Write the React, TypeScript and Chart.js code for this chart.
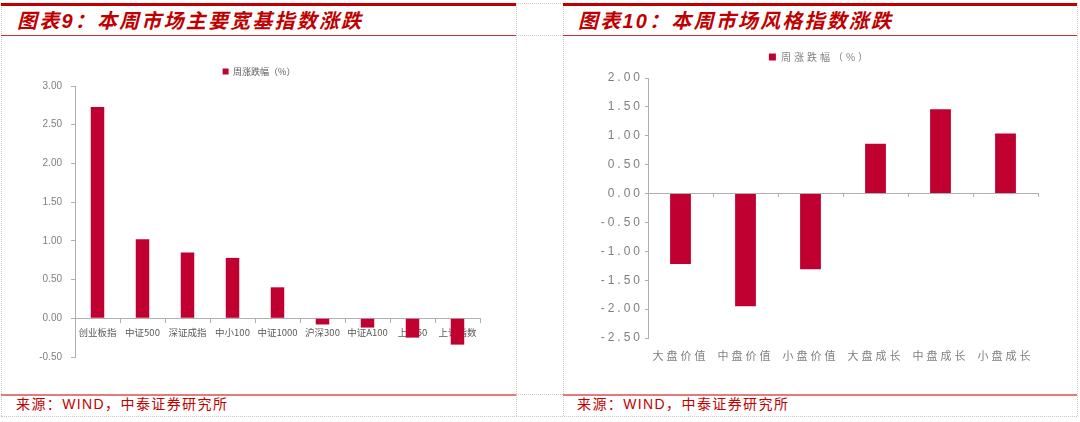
import React, { useEffect, useRef } from 'react';
import { Chart, registerables } from 'chart.js';

Chart.register(...registerables);

// ---------- data ----------
const broadCategories = ['创业板指', '中证500', '深证成指', '中小100', '中证1000', '沪深300', '中证A100', '上证50', '上证指数'];
const broadValues = [2.73, 1.02, 0.85, 0.78, 0.4, -0.08, -0.12, -0.25, -0.34];
const broadAxisRange = [-0.5, 3.0];

const styleCategories = ['大盘价值', '中盘价值', '小盘价值', '大盘成长', '中盘成长', '小盘成长'];
const styleValues = [-1.22, -1.95, -1.31, 0.86, 1.46, 1.04];
const styleAxisRange = [-2.5, 2.0];

const tickStep = 0.5;
const seriesName = '周涨跌幅（%）';
const leftTitle = '图表9：本周市场主要宽基指数涨跌';
const rightTitle = '图表10：本周市场风格指数涨跌';
const sourceText = '来源：WIND，中泰证券研究所';

// ---------- styles ----------
const BAR = '#C00030';
const AXIS = '#b0b0b0';
const RED = '#c00000';
const CJK = '"Noto Sans CJK SC", sans-serif';
const NUM = '"Liberation Sans", Arial, sans-serif';

const letterSpacingPlugin = (px: string) => ({
  id: 'letterSpacingPlugin',
  beforeLayout: (chart: any) => {
    chart.ctx.letterSpacing = px;
  },
  beforeDraw: (chart: any) => {
    chart.ctx.letterSpacing = px;
  },
});

// invisible spacer axis so the legend stays centred on the whole canvas
const rightSpacer = (w: number) => ({
  type: 'linear',
  axis: 'y',
  position: 'right',
  grid: { display: false },
  border: { display: false },
  ticks: { display: false },
  afterFit: (s: any) => {
    s.width = w;
  },
});

function LeftChart() {
  const ref = useRef<HTMLCanvasElement | null>(null);
  useEffect(() => {
    if (!ref.current) return;
    const chart = new Chart(ref.current, {
      type: 'bar',
      data: {
        labels: broadCategories,
        datasets: [
          {
            label: seriesName,
            data: broadValues,
            backgroundColor: BAR,
            borderWidth: 0,
            barPercentage: 0.3,
            categoryPercentage: 1,
            yAxisID: 'y',
          },
        ],
      },
      options: {
        responsive: false,
        animation: false,
        layout: { padding: { left: 0, right: 0, top: 0, bottom: 37 } },
        plugins: {
          legend: {
            display: true,
            position: 'top',
            labels: {
              font: { size: 9, family: CJK },
              color: '#595959',
              boxWidth: 6,
              boxHeight: 6,
              padding: 31,
            },
          },
          tooltip: { enabled: false },
        },
        scales: {
          x: {
            type: 'category',
            position: { y: 0 } as any,
            offset: true,
            grid: {
              display: true,
              offset: true,
              drawOnChartArea: false,
              drawTicks: true,
              tickLength: 4,
              color: AXIS,
            },
            border: { display: true, color: AXIS },
            ticks: {
              font: { size: 9.5, family: CJK },
              color: '#595959',
              padding: 4,
              maxRotation: 0,
              autoSkip: false,
            },
          },
          y: {
            min: broadAxisRange[0],
            max: broadAxisRange[1],
            grid: {
              display: true,
              drawOnChartArea: false,
              drawTicks: true,
              tickLength: 4,
              color: AXIS,
            },
            border: { display: true, color: AXIS },
            ticks: {
              stepSize: tickStep,
              callback: (v: any) => Number(v).toFixed(2),
              font: { size: 10, family: NUM },
              color: '#7f7f7f',
              padding: 9,
            },
            afterFit: (s: any) => {
              s.width = 73;
            },
          },
          yPad: rightSpacer(36) as any,
        },
      },
    });
    return () => chart.destroy();
  }, []);
  return <canvas ref={ref} width={514} height={358} style={{ position: 'absolute', left: 2, top: 36 }} />;
}

function RightChart() {
  const ref = useRef<HTMLCanvasElement | null>(null);
  useEffect(() => {
    if (!ref.current) return;
    const chart = new Chart(ref.current, {
      type: 'bar',
      data: {
        labels: styleCategories,
        datasets: [
          {
            label: seriesName,
            data: styleValues,
            backgroundColor: BAR,
            borderWidth: 0,
            barPercentage: 0.32,
            categoryPercentage: 1,
            xAxisID: 'x',
            yAxisID: 'y',
          },
        ],
      },
      plugins: [letterSpacingPlugin('3px')],
      options: {
        responsive: false,
        animation: false,
        layout: { padding: { left: 0, right: 0, top: 0, bottom: 0 } },
        plugins: {
          legend: {
            display: true,
            position: 'top',
            labels: {
              font: { size: 10, family: CJK },
              color: '#7f7f7f',
              boxWidth: 7,
              boxHeight: 7,
              padding: 16,
            },
          },
          tooltip: { enabled: false },
        },
        scales: {
          x: {
            type: 'category',
            axis: 'x',
            position: { y: 0 } as any,
            offset: true,
            grid: {
              display: true,
              offset: true,
              drawOnChartArea: false,
              drawTicks: true,
              tickLength: 3,
              color: AXIS,
            },
            border: { display: true, color: AXIS },
            ticks: { display: false },
            afterFit: (s: any) => {
              s.height = 0;
            },
          },
          xLabels: {
            type: 'category',
            axis: 'x',
            position: 'bottom',
            offset: true,
            grid: { display: false, offset: true },
            border: { display: false },
            ticks: {
              font: { size: 11, family: CJK },
              color: '#7f7f7f',
              padding: 3,
              maxRotation: 0,
              autoSkip: false,
            },
            afterFit: (s: any) => {
              s.height = 56;
            },
          },
          xTopPad: {
            type: 'category',
            axis: 'x',
            position: 'top',
            grid: { display: false },
            border: { display: false },
            ticks: { display: false },
            afterFit: (s: any) => {
              s.height = 6;
            },
          },
          y: {
            min: styleAxisRange[0],
            max: styleAxisRange[1],
            grid: {
              display: true,
              drawOnChartArea: false,
              drawTicks: true,
              tickLength: 3,
              color: AXIS,
            },
            border: { display: true, color: AXIS },
            ticks: {
              stepSize: tickStep,
              callback: (v: any) => Number(v).toFixed(2),
              font: { size: 12, family: NUM },
              color: '#7f7f7f',
              padding: 2,
            },
            afterFit: (s: any) => {
              s.width = 85;
            },
          },
          yPad: rightSpacer(39) as any,
        },
      },
    });
    return () => chart.destroy();
  }, []);
  return <canvas ref={ref} width={514} height={358} style={{ position: 'absolute', left: 563, top: 36 }} />;
}

const hLine = (y: number, key: string) => (
  <div key={key} style={{ position: 'absolute', left: 1, top: y, width: 1076, height: 0, borderTop: '1px dotted #c8c8c8' }} />
);
const vLine = (x: number, key: string) => (
  <div key={key} style={{ position: 'absolute', left: x, top: 3, width: 0, height: 413, borderLeft: '1px dotted #c8c8c8' }} />
);

const titleStyle = (left: number): React.CSSProperties => ({
  position: 'absolute',
  left,
  top: 10,
  height: 22,
  lineHeight: '22px',
  fontSize: 20,
  fontWeight: 'bold',
  fontStyle: 'italic',
  fontFamily: '"Liberation Sans", "Noto Sans CJK SC", sans-serif',
  letterSpacing: '2.2px',
  color: RED,
  whiteSpace: 'nowrap',
});

const sourceStyle = (left: number): React.CSSProperties => ({
  position: 'absolute',
  left,
  top: 396,
  height: 16,
  lineHeight: '16px',
  fontSize: 14,
  fontFamily: '"Liberation Sans", "Noto Sans CJK SC", sans-serif',
  letterSpacing: '1.4px',
  color: RED,
  whiteSpace: 'nowrap',
});

export default function App() {
  return (
    <div style={{ position: 'fixed', left: 0, top: 0, width: 1080, height: 422, background: '#ffffff', overflow: 'hidden' }}>
      {hLine(3, 'h1')}
      {hLine(35, 'h2')}
      {hLine(394, 'h3')}
      {hLine(416, 'h4')}
      {vLine(1, 'v1')}
      {vLine(516, 'v2')}
      {vLine(563, 'v3')}
      {vLine(1077, 'v4')}

      <div style={{ position: 'absolute', left: 1, top: 3, width: 515, height: 3, background: RED }} />
      <div style={{ position: 'absolute', left: 563, top: 3, width: 514, height: 3, background: RED }} />
      <div style={{ position: 'absolute', left: 1, top: 35, width: 515, height: 1, background: '#c8302f' }} />
      <div style={{ position: 'absolute', left: 563, top: 35, width: 514, height: 1, background: '#c8302f' }} />
      <div style={{ position: 'absolute', left: 1, top: 394, width: 515, height: 2, background: '#e67a7a' }} />
      <div style={{ position: 'absolute', left: 563, top: 394, width: 514, height: 2, background: '#e67a7a' }} />

      <div style={titleStyle(17)}>{leftTitle}</div>
      <div style={titleStyle(578)}>{rightTitle}</div>

      <LeftChart />
      <RightChart />

      <div style={sourceStyle(16)}>{sourceText}</div>
      <div style={sourceStyle(577)}>{sourceText}</div>
    </div>
  );
}
